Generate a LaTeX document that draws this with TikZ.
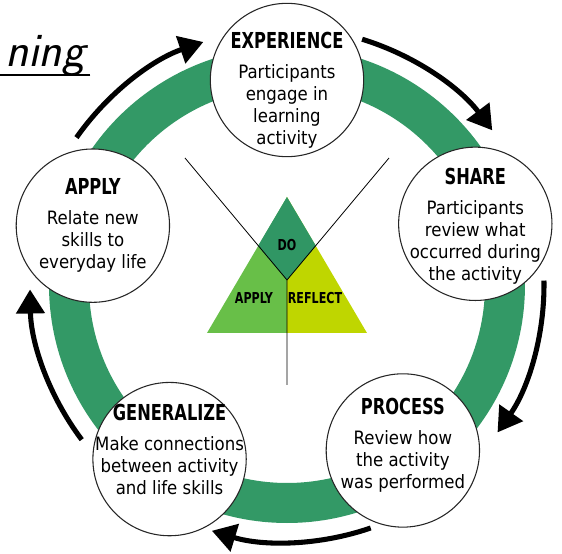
\documentclass[tikz,border=0pt]{standalone}
\usepackage{fontspec}
\setmainfont{DejaVu Sans Condensed}
\newfontfamily\headfont{DejaVu Sans Condensed}[FakeStretch=0.82]
\usetikzlibrary{arrows.meta}

\definecolor{ringgreen}{RGB}{51,153,102}
\definecolor{dogreen}{RGB}{48,150,100}
\definecolor{applygreen}{RGB}{104,191,72}
\definecolor{reflectlime}{RGB}{191,214,0}

\tikzset{
  stage/.style={circle, draw=black!85, line width=0.8pt, fill=white,
    minimum size=115pt, inner sep=0pt},
  stagetext/.style={align=center, inner sep=0pt,
    font=\fontsize{13.8}{16.5}\selectfont},
  cycarrow/.style={line width=3.8pt, -{Triangle[length=18pt,width=21pt]}},
  thinline/.style={line width=0.6pt},
  trilabel/.style={font=\headfont\bfseries\fontsize{11.3}{13}\selectfont}
}
\newcommand{\stagehead}[1]{{\headfont\bfseries\fontsize{16.5}{16.5}\selectfont #1}\\[6pt]}

\begin{document}
\begin{tikzpicture}[x=0.75pt,y=0.75pt]
  \useasboundingbox (-287,-269) rectangle (275,285);
  % ring
  \draw[ringgreen, line width=30pt] (0,0) circle[radius=218];
  % arrows round the cycle
  \foreach \a in {145,73,1,-71,-143}
    \draw[cycarrow] (\a:257) arc[start angle=\a, end angle=\a-36, radius=257];

  % stages
  \node[stage] (experience) at (90:205) {};
  \node[stage] (share) at (18:198) {};
  \node[stage] (process) at (-55:202) {};
  \node[stage] (generalize) at (-124:210) {};
  \node[stage] (apply) at (163:203) {};
  \node[stagetext] (experiencetxt) at ([yshift=-8pt]experience) {\stagehead{EXPERIENCE}Participants\\engage in\\learning\\activity};
  \node[stagetext] (sharetxt) at ([yshift=-1.5pt]share) {\stagehead{SHARE}Participants\\review what\\occurred during\\the activity};
  \node[stagetext] (processtxt) at ([yshift=4pt]process) {\stagehead{PROCESS}Review how\\the activity\\was performed};
  \node[stagetext] (generalizetxt) at ([yshift=7.5pt]generalize) {\stagehead{GENERALIZE}Make connections\\between activity\\and life skills};
  \node[stagetext] (applytxt) at (apply) {\stagehead{APPLY}Relate new\\skills to\\everyday life};

  % triangle in the middle
  \coordinate (apex) at (0,88);
  \coordinate (baseL) at (-80,-48);
  \coordinate (baseM) at (0,-48);
  \coordinate (baseR) at (80,-48);
  \coordinate (hub) at (0,5);
  \coordinate (doL) at (-29,39);
  \coordinate (doR) at (29,39);
  \fill[applygreen] (apex) -- (baseL) -- (baseM) -- cycle;
  \fill[reflectlime] (apex) -- (baseM) -- (baseR) -- cycle;
  \fill[dogreen] (apex) -- (doL) -- (hub) -- (doR) -- cycle;
  \coordinate (armL) at (-102,127);
  \coordinate (armR) at (102,127);
  \coordinate (stem) at (0,-100);
  \draw[thinline] (armL) -- (hub) -- (armR) (hub) -- (stem);
  \node[trilabel] (do) at (0,40) {DO};
  \node[trilabel] (applylbl) at (-33,-13) {APPLY};
  \node[trilabel] (reflect) at (28,-13) {REFLECT};

  % title, cut off at the edge
  \node[anchor=base east, inner sep=0pt, font=\sffamily\itshape\fontsize{36}{40}\selectfont] (title) at (-202,218) {ning};
  \draw[line width=2pt] ([xshift=4pt,yshift=-6pt]title.base east) -- ++(-100,0);
\end{tikzpicture}
\end{document}
